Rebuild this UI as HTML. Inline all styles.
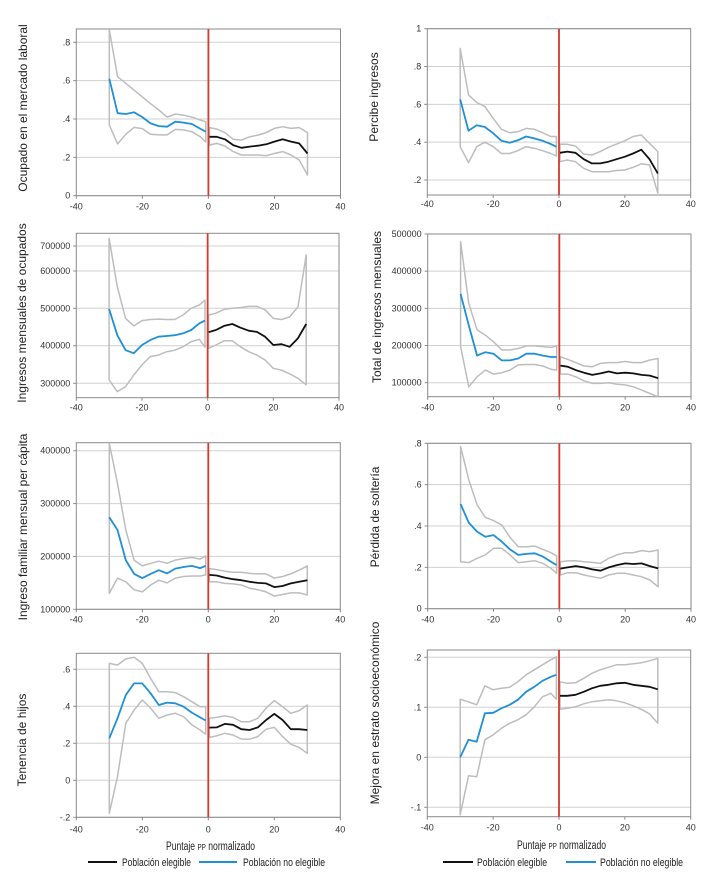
<!DOCTYPE html>
<html><head><meta charset="utf-8">
<style>
html,body{margin:0;padding:0;background:#fff;}
svg{display:block;font-family:"Liberation Sans",sans-serif;}
.nar{font-family:"Liberation Sans Narrow","Liberation Sans",sans-serif;}
</style></head>
<body>
<svg id="c" width="721" height="894" viewBox="0 0 721 894" xmlns="http://www.w3.org/2000/svg">
  <g><text class="nar" x="166" y="850" font-size="11.5" textLength="89" lengthAdjust="spacingAndGlyphs" fill="#222">Puntaje <tspan font-size="8.5">PP</tspan> normalizado</text></g>
  <g><text class="nar" x="517" y="849" font-size="11.5" textLength="89" lengthAdjust="spacingAndGlyphs" fill="#222">Puntaje <tspan font-size="8.5">PP</tspan> normalizado</text></g>
  <g>
    <line x1="88" y1="862" x2="117" y2="862" stroke="#111" stroke-width="2"/>
    <text class="nar" x="122" y="866" font-size="11" textLength="69" lengthAdjust="spacingAndGlyphs" fill="#222">Población elegible</text>
    <line x1="199" y1="862" x2="237" y2="862" stroke="#1f8fd6" stroke-width="2"/>
    <text class="nar" x="243" y="866" font-size="11" textLength="82" lengthAdjust="spacingAndGlyphs" fill="#222">Población no elegible</text>
  </g>
  <g>
    <line x1="443" y1="862" x2="473" y2="862" stroke="#111" stroke-width="2"/>
    <text class="nar" x="477" y="866" font-size="11" textLength="70" lengthAdjust="spacingAndGlyphs" fill="#222">Población elegible</text>
    <line x1="566" y1="862" x2="596" y2="862" stroke="#1f8fd6" stroke-width="2"/>
    <text class="nar" x="600" y="866" font-size="11" textLength="83" lengthAdjust="spacingAndGlyphs" fill="#222">Población no elegible</text>
  </g>
</svg>
<script>
const xLeft = [-30,-27.5,-25,-22.5,-20,-17.5,-15,-12.5,-10,-7.5,-5,-2.5,0];
const xRight = [0,2.5,5,7.5,10,12.5,15,17.5,20,22.5,25,27.5,30];
const xTicks = [-40,-20,0,20,40];

// Panel 1: Ocupado en el mercado laboral
const p1Ticks = [0,.2,.4,.6,.8];
const p1TickLabels = ["0",".2",".4",".6",".8"];
const p1BlueMean = [.61,.43,.426,.435,.41,.377,.363,.36,.386,.381,.374,.35,.334];
const p1BlueUp = [.865,.62,.586,.55,.516,.48,.447,.41,.426,.42,.41,.395,.386];
const p1BlueLo = [.37,.27,.32,.356,.35,.32,.317,.317,.346,.343,.334,.308,.28];
const p1BlackMean = [.307,.307,.294,.264,.25,.256,.261,.268,.282,.294,.282,.273,.22];
const p1BlackUp = [.355,.348,.329,.294,.29,.307,.316,.329,.351,.36,.351,.355,.329];
const p1BlackLo = [.264,.273,.259,.23,.212,.212,.212,.209,.22,.23,.212,.186,.108];

// Panel 2: Percibe ingresos
const p2Ticks = [.2,.4,.6,.8,1];
const p2TickLabels = [".2",".4",".6",".8","1"];
const p2BlueMean = [.626,.46,.49,.48,.447,.408,.397,.41,.43,.42,.408,.39,.376];
const p2BlueUp = [.896,.65,.61,.588,.526,.468,.45,.455,.473,.468,.45,.43,.43];
const p2BlueLo = [.376,.292,.376,.40,.376,.34,.34,.355,.376,.368,.355,.34,.327];
const p2BlackMean = [.344,.35,.344,.31,.288,.288,.297,.31,.323,.34,.36,.31,.235];
const p2BlackUp = [.39,.389,.38,.337,.332,.35,.373,.39,.408,.43,.438,.394,.35];
const p2BlackLo = [.297,.306,.297,.262,.244,.244,.244,.25,.253,.267,.285,.28,.13];

// Panel 3: Ingresos mensuales de ocupados
const p3Ticks = [300000,400000,500000,600000,700000];
const p3TickLabels = ["300000","400000","500000","600000","700000"];
const p3BlueMean = [498,428,388,380,402,415,424,426,428,433,442,460,467].map(v=>v*1000);
const p3BlueUp = [731,558,473,453,467,470,471,470,470,482,500,509,522].map(v=>v*1000);
const p3BlueLo = [309,278,291,322,349,371,375,384,388,397,411,417,396].map(v=>v*1000);
const p3BlackMean = [436,442,453,458,448,440,437,424,402,404,397,420,458].map(v=>v*1000);
const p3BlackUp = [482,487,497,500,502,505,505,496,473,470,477,504,664].map(v=>v*1000);
const p3BlackLo = [393,402,413,413,397,384,375,362,340,335,325,313,296].map(v=>v*1000);

// Panel 4: Total de ingresos mensuales
const p4Ticks = [100000,200000,300000,400000,500000];
const p4TickLabels = ["100000","200000","300000","400000","500000"];
const p4BlueMean = [339,254,173,182,178,160,160,165,178,178,173,169,169].map(v=>v*1000);
const p4BlueUp = [479,313,242,228,210,188,188,192,199,199,197,195,199].map(v=>v*1000);
const p4BlueLo = [197,89,116,134,123,127,134,148,149,149,145,136,134].map(v=>v*1000);
const p4BlackMean = [146,143,134,127,121,125,130,125,127,125,121,119,112].map(v=>v*1000);
const p4BlackUp = [170,163,154,145,143,152,154,154,157,154,154,161,165].map(v=>v*1000);
const p4BlackLo = [123,123,116,105,98,98,100,96,94,89,80,71,62].map(v=>v*1000);

// Panel 5: Ingreso familiar mensual per cápita
const p5Ticks = [100000,200000,300000,400000];
const p5TickLabels = ["100000","200000","300000","400000"];
const p5BlueMean = [274,250,193,167,159,167,174,168,177,180,182,178,182].map(v=>v*1000);
const p5BlueUp = [414,338,250,193,182,187,191,187,193,196,198,195,201].map(v=>v*1000);
const p5BlueLo = [130,159,152,137,133,146,155,150,159,162,163,163,165].map(v=>v*1000);
const p5BlackMean = [165,164,160,157,155,152,150,149,142,144,149,152,155].map(v=>v*1000);
const p5BlackUp = [177,175,172,170,170,168,167,167,159,162,167,174,182].map(v=>v*1000);
const p5BlackLo = [152,152,149,148,146,140,137,133,125,128,131,131,127].map(v=>v*1000);

// Panel 6: Pérdida de soltería
const p6Ticks = [0,.2,.4,.6,.8];
const p6TickLabels = ["0",".2",".4",".6",".8"];
const p6BlueMean = [.506,.416,.373,.348,.356,.324,.287,.26,.265,.268,.252,.227,.211];
const p6BlueUp = [.784,.623,.502,.442,.426,.405,.345,.3,.3,.303,.287,.271,.255];
const p6BlueLo = [.227,.223,.244,.26,.292,.292,.26,.223,.227,.232,.219,.195,.171];
const p6BlackMean = [.194,.2,.206,.2,.19,.184,.2,.211,.219,.216,.219,.206,.195];
const p6BlackUp = [.227,.231,.232,.227,.224,.219,.244,.26,.271,.271,.281,.276,.284];
const p6BlackLo = [.163,.174,.174,.163,.155,.147,.163,.171,.171,.163,.155,.139,.106];

// Panel 7: Tenencia de hijos
const p7Ticks = [-.2,0,.2,.4,.6];
const p7TickLabels = ["-.2","0",".2",".4",".6"];
const p7BlueMean = [.227,.335,.461,.524,.524,.47,.407,.42,.416,.398,.366,.34,.323];
const p7BlueUp = [.632,.623,.656,.665,.632,.551,.479,.479,.474,.452,.425,.398,.398];
const p7BlueLo = [-.178,.02,.308,.38,.434,.39,.335,.353,.362,.344,.3,.272,.249];
const p7BlackMean = [.285,.286,.305,.3,.276,.272,.286,.326,.359,.326,.276,.276,.272];
const p7BlackUp = [.335,.34,.348,.34,.317,.317,.335,.39,.431,.398,.362,.377,.407];
const p7BlackLo = [.232,.24,.254,.245,.223,.222,.236,.276,.286,.236,.195,.178,.146];

// Panel 8: Mejora en estrato socioeconómico
const p8Ticks = [-.1,0,.1,.2];
const p8TickLabels = ["-.1","0",".1",".2"];
const p8BlueMean = [0,.035,.031,.088,.089,.098,.105,.115,.131,.141,.153,.161,.165];
const p8BlueUp = [.116,.111,.105,.143,.135,.138,.14,.151,.165,.175,.185,.195,.201];
const p8BlueLo = [-.115,-.037,-.039,.035,.045,.058,.068,.075,.085,.101,.121,.128,.116];
const p8BlackMean = [.123,.123,.125,.131,.138,.143,.145,.148,.149,.145,.143,.141,.136];
const p8BlackUp = [.151,.148,.149,.158,.168,.175,.18,.185,.185,.187,.189,.193,.198];
const p8BlackLo = [.096,.098,.101,.107,.111,.113,.115,.113,.109,.103,.096,.087,.068];

const NS = "http://www.w3.org/2000/svg";
const svg = document.getElementById('c');
function mk(tag, attrs, parent){
  const e = document.createElementNS(NS, tag);
  for (const k in attrs) e.setAttribute(k, attrs[k]);
  (parent||svg).appendChild(e);
  return e;
}
function linScale(d, r){
  return v => {
    let i = 0;
    while (i < d.length - 2 && v > d[i+1]) i++;
    return r[i] + (v - d[i]) * (r[i+1] - r[i]) / (d[i+1] - d[i]);
  };
}

const panels = [
  {id:'ocupado', title:'Ocupado en el mercado laboral', L:76.3,R:340.5,T:29,B:195.7, yd:[0,.8], yr:[195.7,42.3], tx:23, ty:108, lab:14,
   ticks:p1Ticks, tl:p1TickLabels, bm:p1BlueMean, bu:p1BlueUp, bl:p1BlueLo, km:p1BlackMean, ku:p1BlackUp, kl:p1BlackLo},
  {id:'percibe', title:'Percibe ingresos', L:427.3,R:690.7,T:28.7,B:195, yd:[.2,1], yr:[180,28.7], tx:374, ty:97, lab:12,
   ticks:p2Ticks, tl:p2TickLabels, bm:p2BlueMean, bu:p2BlueUp, bl:p2BlueLo, km:p2BlackMean, ku:p2BlackUp, kl:p2BlackLo},
  {id:'ingresos-ocupados', title:'Ingresos mensuales de ocupados', L:76.3,R:339,T:233.3,B:397.7, yd:[300000,400000,500000,600000,700000], yr:[383.3,345.7,308.3,271,246], tx:22, ty:313, lab:13,
   ticks:p3Ticks, tl:p3TickLabels, bm:p3BlueMean, bu:p3BlueUp, bl:p3BlueLo, km:p3BlackMean, ku:p3BlackUp, kl:p3BlackLo},
  {id:'total-ingresos', title:'Total de ingresos mensuales', L:427.7,R:691,T:234,B:396.7, yd:[100000,500000], yr:[382.7,234], tx:377, ty:307, lab:14,
   ticks:p4Ticks, tl:p4TickLabels, bm:p4BlueMean, bu:p4BlueUp, bl:p4BlueLo, km:p4BlackMean, ku:p4BlackUp, kl:p4BlackLo},
  {id:'ingreso-familiar', title:'Ingreso familiar mensual per cápita', L:76.3,R:340.3,T:442.7,B:609.3, yd:[100000,400000], yr:[609.3,450.7], tx:23, ty:527, lab:13,
   ticks:p5Ticks, tl:p5TickLabels, bm:p5BlueMean, bu:p5BlueUp, bl:p5BlueLo, km:p5BlackMean, ku:p5BlackUp, kl:p5BlackLo},
  {id:'perdida-solteria', title:'Pérdida de soltería', L:427.7,R:691,T:443.3,B:608.7, yd:[0,.8], yr:[608.7,443.3], tx:375, ty:517, lab:14,
   ticks:p6Ticks, tl:p6TickLabels, bm:p6BlueMean, bu:p6BlueUp, bl:p6BlueLo, km:p6BlackMean, ku:p6BlackUp, kl:p6BlackLo},
  {id:'tenencia-hijos', title:'Tenencia de hijos', L:76.3,R:340.3,T:653.3,B:817.3, yd:[-.2,.6], yr:[817.3,669.3], tx:22, ty:740, lab:15,
   ticks:p7Ticks, tl:p7TickLabels, bm:p7BlueMean, bu:p7BlueUp, bl:p7BlueLo, km:p7BlackMean, ku:p7BlackUp, kl:p7BlackLo},
  {id:'mejora-estrato', title:'Mejora en estrato socioeconómico', L:427.3,R:690.7,T:650,B:816.7, yd:[-.1,.2], yr:[807.3,657.3], tx:375, ty:713, lab:14,
   ticks:p8Ticks, tl:p8TickLabels, bm:p8BlueMean, bu:p8BlueUp, bl:p8BlueLo, km:p8BlackMean, ku:p8BlackUp, kl:p8BlackLo},
];

panels.forEach(p => {
  const g = mk('g', {});
  
  
  const X = v => p.L + (v + 40) * (p.R - p.L) / 80;
  const Y = linScale(p.yd, p.yr);
  const clipId = 'clip-' + p.id;
  const cp = mk('clipPath', {id: clipId}, g);
  mk('rect', {x:p.L, y:p.T, width:p.R-p.L, height:p.B-p.T}, cp);

  p.ticks.forEach((t, i) => {
    const y = Y(t);
    const gl = mk('line', {x1:p.L, x2:p.R, y1:y, y2:y, stroke:'#d0d0d0', 'stroke-width':1}, g);
    
    
    const tk = mk('line', {x1:p.L-3, x2:p.L, y1:y, y2:y, stroke:'#888', 'stroke-width':1}, g);
    
    
    const tl = mk('text', {x:p.L-6, y:y+3, 'font-size':9, 'text-anchor':'end', fill:'#333'}, g);
    tl.textContent = p.tl[i];
    
    
  });
  xTicks.forEach(t => {
    const x = X(t);
    const tk = mk('line', {x1:x, x2:x, y1:p.B, y2:p.B+3, stroke:'#888', 'stroke-width':1}, g);
    
    
    const tl = mk('text', {x:x, y:p.B+p.lab, 'font-size':9, 'text-anchor':'middle', fill:'#333'}, g);
    tl.textContent = String(t);
    
    
  });

  const frame = mk('rect', {x:p.L, y:p.T, width:p.R-p.L, height:p.B-p.T, fill:'none', stroke:'#8a8a8a', 'stroke-width':1}, g);
  
  

  const plot = mk('g', {'clip-path':'url(#'+clipId+')'}, g);
  function band(xs, up, lo, name){
    let d = '';
    xs.forEach((x,i) => { d += (i ? 'L' : 'M') + X(x).toFixed(1) + ',' + Y(up[i]).toFixed(1); });
    for (let i = xs.length - 1; i >= 0; i--) d += 'L' + X(xs[i]).toFixed(1) + ',' + Y(lo[i]).toFixed(1);
    d += 'Z';
    const e = mk('path', {d:d, fill:'none', stroke:'#bdbdbd', 'stroke-width':1.5, 'stroke-linejoin':'round'}, plot);
    
    
  }
  function line(xs, ys, color, name){
    let d = '';
    xs.forEach((x,i) => { d += (i ? 'L' : 'M') + X(x).toFixed(1) + ',' + Y(ys[i]).toFixed(1); });
    const e = mk('path', {d:d, fill:'none', stroke:color, 'stroke-width':1.8, 'stroke-linejoin':'round'}, plot);
    
    
  }
  const xl = xLeft.map(v => v === 0 ? -0.8 : v);
  const xr = xRight.map(v => v === 0 ? 0.3 : v);
  band(xl, p.bu, p.bl, 'ci-band-no-elegible');
  band(xr, p.ku, p.kl, 'ci-band-elegible');
  line(xl, p.bm, '#1f8fd6', 'line-no-elegible');
  line(xr, p.km, '#111111', 'line-elegible');

  const cut = mk('line', {x1:X(0), x2:X(0), y1:p.T, y2:p.B, stroke:'#d23a2e', 'stroke-width':1.8}, g);
  
  

  const tt = mk('text', {x:0, y:0, 'font-size':12, 'text-anchor':'middle', fill:'#222',
    transform:'translate(' + (p.tx + 4) + ',' + p.ty + ') rotate(-90)'}, g);
  tt.textContent = p.title;
  
  
});
</script>
</body></html>
